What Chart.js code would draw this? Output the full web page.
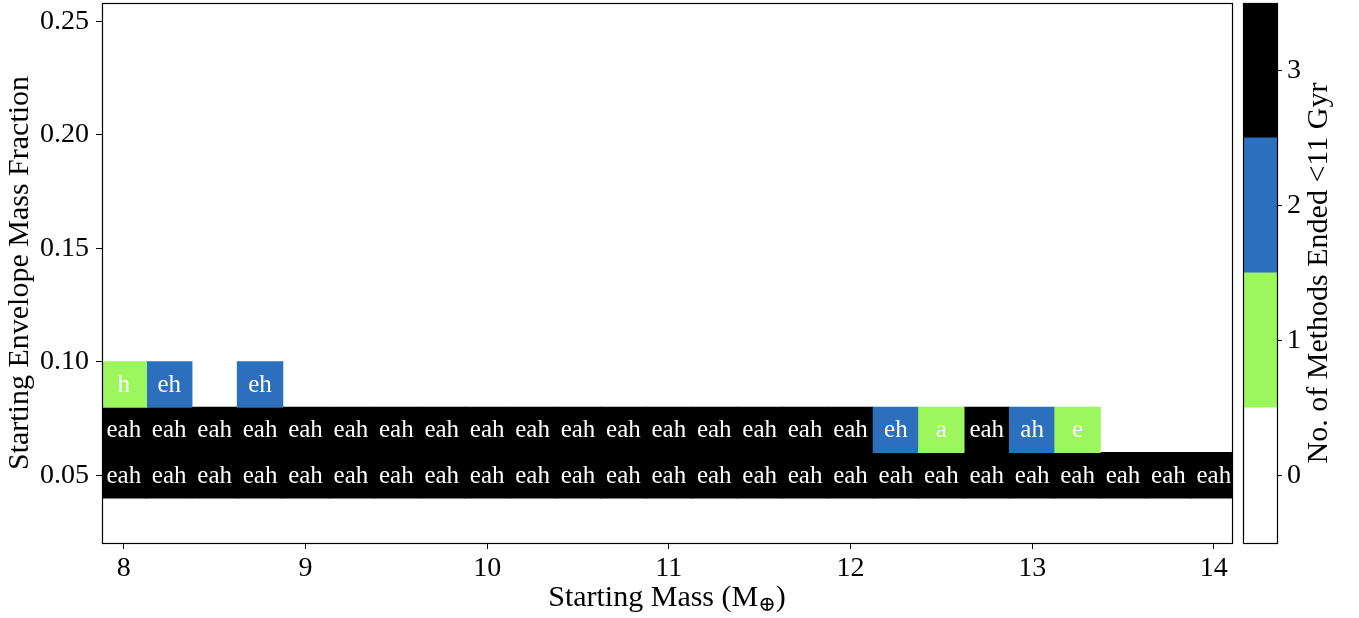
<!DOCTYPE html>
<html>
<head>
<meta charset="utf-8">
<script src="https://cdn.jsdelivr.net/npm/chart.js@4.4.1/dist/chart.umd.min.js"></script>
<style>
  html, body { margin: 0; padding: 0; background: #fff; }
  #wrap { position: relative; width: 1359px; height: 618px; overflow: hidden; }
  #main { position: absolute; left: 0; top: 0; }
  #cbar { position: absolute; left: 1236px; top: 0; }
</style>
</head>
<body>
<div id="wrap">
  <canvas id="main" width="1359" height="618"></canvas>
  <canvas id="cbar" width="123" height="618"></canvas>
</div>
<script>
// starting masses (Earth masses), one column per value
const masses = [8, 8.25, 8.5, 8.75, 9, 9.25, 9.5, 9.75, 10, 10.25, 10.5, 10.75, 11,
  11.25, 11.5, 11.75, 12, 12.25, 12.5, 12.75, 13, 13.25, 13.5, 13.75, 14];

// starting envelope mass fractions, one row per value
const envelopeFractions = [0.05, 0.07, 0.09];

// which methods ended before 11 Gyr (e / a / h), per row, in mass order
const methodsAt005 = ['eah', 'eah', 'eah', 'eah', 'eah', 'eah', 'eah', 'eah', 'eah', 'eah',
  'eah', 'eah', 'eah', 'eah', 'eah', 'eah', 'eah', 'eah', 'eah', 'eah', 'eah', 'eah',
  'eah', 'eah', 'eah'];
const methodsAt007 = ['eah', 'eah', 'eah', 'eah', 'eah', 'eah', 'eah', 'eah', 'eah', 'eah',
  'eah', 'eah', 'eah', 'eah', 'eah', 'eah', 'eah', 'eh', 'a', 'eah', 'ah', 'e'];
const methodsAt009 = ['h', 'eh', '', 'eh'];

const countLevels = [0, 1, 2, 3];
const levelColors = ['#ffffff', '#9cf65e', '#2c6fbd', '#000000'];

const rows = [methodsAt005, methodsAt007, methodsAt009];
const rowHalf = 0.01;

const FONT = "'Liberation Serif', 'DejaVu Serif', serif";
Chart.defaults.font.family = FONT;
Chart.defaults.color = '#000';

function cellsFor(level) {
  const out = [];
  rows.forEach((labels, r) => {
    labels.forEach((tag, i) => {
      if (tag.length === level) {
        const f = envelopeFractions[r];
        out.push({ x: masses[i], y: [f - rowHalf, f + rowHalf], tag: tag });
      }
    });
  });
  return out;
}

function noPad(s) {
  s.paddingTop = 0;
  s.paddingBottom = 0;
  s.paddingLeft = 0;
  s.paddingRight = 0;
}

const framePlugin = {
  id: 'frame',
  afterDraw(chart) {
    const { ctx, chartArea: a } = chart;
    ctx.save();
    ctx.strokeStyle = '#000';
    ctx.lineWidth = 1.2;
    ctx.strokeRect(Math.round(a.left) + 0.5, Math.round(a.top) + 0.5,
      Math.round(a.right) - Math.round(a.left), Math.round(a.bottom) - Math.round(a.top));
    ctx.restore();
  }
};

const cellLabels = {
  id: 'cellLabels',
  afterDatasetsDraw(chart) {
    const { ctx, chartArea: a } = chart;
    ctx.save();
    ctx.beginPath();
    ctx.rect(a.left, a.top, a.width, a.height);
    ctx.clip();
    ctx.font = "25px " + FONT;
    ctx.fillStyle = '#fff';
    ctx.textAlign = 'center';
    ctx.textBaseline = 'middle';
    chart.data.datasets.forEach((ds, di) => {
      const meta = chart.getDatasetMeta(di);
      meta.data.forEach((bar, j) => {
        const c = bar.getCenterPoint();
        ctx.fillText(ds.data[j].tag, c.x, c.y + 1);
      });
    });
    ctx.restore();
  }
};

// x title with a subscript earth symbol
const massTitle = {
  id: 'massTitle',
  afterDraw(chart) {
    const { ctx, chartArea: a } = chart;
    const big = "30px " + FONT, small = "21px " + FONT;
    const p1 = 'Starting Mass (M', p2 = '\u2295', p3 = ')';
    ctx.save();
    ctx.fillStyle = '#000';
    ctx.textBaseline = 'alphabetic';
    ctx.font = big;
    const w1 = ctx.measureText(p1).width, w3 = ctx.measureText(p3).width;
    ctx.font = small;
    const w2 = ctx.measureText(p2).width;
    let x = (a.left + a.right) / 2 - (w1 + w2 + w3) / 2;
    const y = 606;
    ctx.font = big;
    ctx.fillText(p1, x, y);
    x += w1;
    ctx.font = small;
    ctx.fillText(p2, x, y + 5);
    x += w2;
    ctx.font = big;
    ctx.fillText(p3, x, y);
    ctx.restore();
  }
};

new Chart(document.getElementById('main'), {
  type: 'bar',
  data: {
    datasets: countLevels.slice(1).map((lv) => ({
      data: cellsFor(lv),
      backgroundColor: levelColors[lv],
      borderWidth: 0,
      inflateAmount: 0.5,
      grouped: false,
      barPercentage: 1,
      categoryPercentage: 1
    }))
  },
  options: {
    responsive: false,
    animation: false,
    devicePixelRatio: 1,
    layout: { padding: { left: 0, top: 3, right: 127, bottom: 0 } },
    plugins: { legend: { display: false }, tooltip: { enabled: false } },
    scales: {
      x: {
        type: 'linear',
        min: 7.88,
        max: 14.1,
        offset: false,
        ticks: { stepSize: 1, includeBounds: false, padding: 3, font: { size: 28 } },
        grid: { drawOnChartArea: false, offset: false, tickLength: 6, color: '#000' },
        border: { display: false },
        afterFit(s) { noPad(s); s.height = 75; }
      },
      y: {
        type: 'linear',
        min: 0.0202,
        max: 0.258,
        ticks: {
          stepSize: 0.05, includeBounds: false, padding: 7, font: { size: 28 },
          callback: (v) => v.toFixed(2)
        },
        grid: { drawOnChartArea: false, tickLength: 6, color: '#000' },
        border: { display: false },
        title: { display: true, text: 'Starting Envelope Mass Fraction', font: { size: 30 }, padding: 2 },
        afterFit(s) { noPad(s); s.width = 102; }
      }
    }
  },
  plugins: [framePlugin, cellLabels, massTitle]
});

const cbarTitle = {
  id: 'cbarTitle',
  afterDraw(chart) {
    const ctx = chart.ctx;
    ctx.save();
    ctx.translate(83, 273);
    ctx.rotate(-Math.PI / 2);
    ctx.font = "30px " + FONT;
    ctx.fillStyle = '#000';
    ctx.textAlign = 'center';
    ctx.textBaseline = 'middle';
    ctx.fillText('No. of Methods Ended <11 Gyr', 0, 0);
    ctx.restore();
  }
};

new Chart(document.getElementById('cbar'), {
  type: 'bar',
  data: {
    labels: [''],
    datasets: countLevels.map((lv) => ({
      data: [[lv - 0.5, lv + 0.5]],
      backgroundColor: levelColors[lv],
      borderWidth: 0,
      inflateAmount: 0.5,
      grouped: false,
      barPercentage: 1,
      categoryPercentage: 1
    }))
  },
  options: {
    responsive: false,
    animation: false,
    devicePixelRatio: 1,
    layout: { padding: { left: 7, top: 3, right: 0, bottom: 75 } },
    plugins: { legend: { display: false }, tooltip: { enabled: false } },
    scales: {
      x: { display: false },
      y: {
        position: 'right',
        min: -0.5,
        max: 3.5,
        afterBuildTicks(s) { s.ticks = countLevels.map((v) => ({ value: v })); },
        ticks: { padding: 5, font: { size: 28 } },
        grid: { drawOnChartArea: false, tickLength: 5, color: '#000' },
        border: { display: false },
        afterFit(s) { noPad(s); s.width = 82; }
      }
    }
  },
  plugins: [framePlugin, cbarTitle]
});
</script>
</body>
</html>
